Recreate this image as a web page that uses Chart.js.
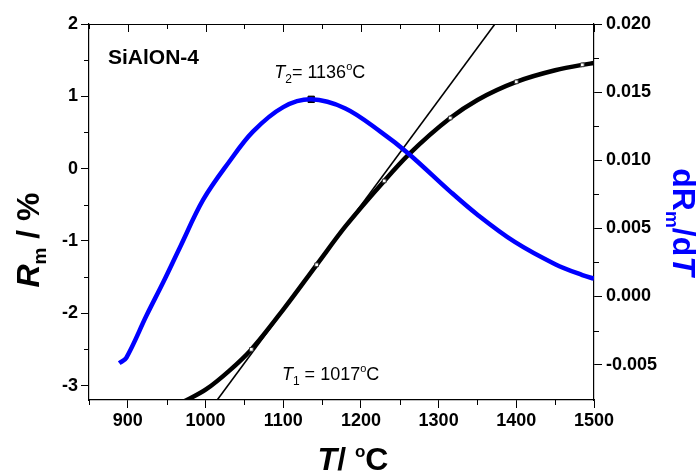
<!DOCTYPE html>
<html>
<head>
  <meta charset="UTF-8">
  <title>SiAlON-4 Rm</title>
  <script src="https://cdn.jsdelivr.net/npm/chart.js"></script>
  <style>
    body { margin: 0; background: #fff; }
    #wrap { width: 698px; height: 475px; }
  </style>
</head>
<body>
  <div id="wrap"><canvas id="grafico" width="698" height="475"></canvas></div>

  <script>
    // Rm (%) curve, left axis
    const rmTemps  = [940, 960, 976, 1001, 1030, 1059, 1100, 1143, 1180, 1230, 1261, 1315, 1350, 1400, 1450, 1485, 1500];
    const rmValues = [-3.34, -3.28, -3.2, -3.05, -2.80, -2.50, -1.95, -1.33, -0.80, -0.17, 0.19, 0.70, 0.95, 1.20, 1.36, 1.435, 1.46];
    const rmMarkerTemps = [1059, 1143, 1230, 1315, 1400, 1485];

    // dRm/dT curve, right axis
    const dTemps  = [889, 898, 924, 946, 967, 997, 1030, 1061, 1100, 1136, 1180, 1225, 1261, 1315, 1350, 1398, 1450, 1485, 1500];
    const dValues = [-0.0049, -0.0045, -0.0014, 0.0011, 0.0036, 0.0071, 0.00985, 0.0121, 0.0139, 0.01447, 0.0138, 0.0121, 0.0105, 0.0077, 0.0060, 0.0040, 0.00237, 0.00157, 0.00131];

    // tangent line and peak
    const tangentTemps  = [1015, 1372.5];
    const tangentValues = [-3.2, 2];
    const peakTemp = 1136;
    const peakValue = 0.01447;

    // ticks
    const xTicks = [900, 1000, 1100, 1200, 1300, 1400, 1500];
    const xMinor = [850, 950, 1050, 1150, 1250, 1350, 1450];
    const yTicks = [-3, -2, -1, 0, 1, 2];
    const yMinor = [-2.5, -1.5, -0.5, 0.5, 1.5];
    const y2Ticks = [-0.005, 0, 0.005, 0.010, 0.015, 0.020];
    const y2Minor = [-0.0025, 0.0025, 0.0075, 0.0125, 0.0175];

    const FAM = 'Arial, "Liberation Sans", sans-serif';

    function puntos(xs, ys) {
      return xs.map((x, i) => ({ x: x, y: ys[i] }));
    }

    // text made of pieces (italic, sub/superscript)
    function textoRico(ctx, partes, x, y, align) {
      let total = 0;
      partes.forEach(p => { ctx.font = p.f; p.w = ctx.measureText(p.t).width; total += p.w; });
      let cx = align === 'center' ? x - total / 2 : x;
      partes.forEach(p => {
        ctx.font = p.f;
        ctx.fillText(p.t, cx, y + (p.dy || 0));
        cx += p.w;
      });
    }

    const extras = {
      id: 'extras',
      afterDraw(chart) {
        const ctx = chart.ctx;
        const a = chart.chartArea;
        const sx = chart.scales.x, sy = chart.scales.y, sy2 = chart.scales.y2;
        ctx.save();
        ctx.strokeStyle = '#000';
        ctx.lineWidth = 1;

        // top border with inward ticks, minor ticks elsewhere
        ctx.beginPath();
        ctx.moveTo(a.left, a.top + 0.5);
        ctx.lineTo(a.right, a.top + 0.5);
        xTicks.forEach(v => {
          const p = Math.round(sx.getPixelForValue(v)) + 0.5;
          ctx.moveTo(p, a.top); ctx.lineTo(p, a.top + 8);
        });
        xMinor.forEach(v => {
          const p = Math.round(sx.getPixelForValue(v)) + 0.5;
          ctx.moveTo(p, a.top); ctx.lineTo(p, a.top + 5);
          ctx.moveTo(p, a.bottom); ctx.lineTo(p, a.bottom + 5);
        });
        yMinor.forEach(v => {
          const p = Math.round(sy.getPixelForValue(v)) + 0.5;
          ctx.moveTo(a.left, p); ctx.lineTo(a.left - 5, p);
        });
        y2Minor.forEach(v => {
          const p = Math.round(sy2.getPixelForValue(v)) + 0.5;
          ctx.moveTo(a.right, p); ctx.lineTo(a.right + 5, p);
        });
        ctx.stroke();

        ctx.textBaseline = 'alphabetic';
        ctx.fillStyle = '#000';

        // SiAlON-4
        ctx.font = 'bold 21px ' + FAM;
        ctx.fillText('SiAlON-4', 108, 64);

        // T2 label
        textoRico(ctx, [
          { t: 'T', f: 'italic 18px ' + FAM },
          { t: '2', f: '12px ' + FAM, dy: 5 },
          { t: '= 1136', f: '18px ' + FAM },
          { t: 'o', f: '11px ' + FAM, dy: -8 },
          { t: 'C', f: '18px ' + FAM }
        ], sx.getPixelForValue(1147), sy.getPixelForValue(1.26), 'center');

        // T1 label
        textoRico(ctx, [
          { t: 'T', f: 'italic 18px ' + FAM },
          { t: '1', f: '12px ' + FAM, dy: 5 },
          { t: ' = 1017', f: '18px ' + FAM },
          { t: 'o', f: '11px ' + FAM, dy: -8 },
          { t: 'C', f: '18px ' + FAM }
        ], sx.getPixelForValue(1161), sy.getPixelForValue(-2.92), 'center');

        // x title
        textoRico(ctx, [
          { t: 'T', f: 'bold italic 32px ' + FAM },
          { t: '/ ', f: 'bold 32px ' + FAM },
          { t: 'o', f: 'bold 17px ' + FAM, dy: -13 },
          { t: 'C', f: 'bold 32px ' + FAM }
        ], 353, 470, 'center');

        // left title
        ctx.save();
        ctx.translate(28, 240);
        ctx.rotate(-Math.PI / 2);
        textoRico(ctx, [
          { t: 'R', f: 'bold italic 32px ' + FAM },
          { t: 'm', f: 'bold 19px ' + FAM, dy: 7 },
          { t: ' / %', f: 'bold 32px ' + FAM }
        ], 0, 11, 'center');
        ctx.restore();

        // right title
        ctx.save();
        ctx.fillStyle = '#0000ff';
        ctx.translate(684, 222);
        ctx.rotate(Math.PI / 2);
        textoRico(ctx, [
          { t: 'dR', f: 'bold 32px ' + FAM },
          { t: 'm', f: 'bold 19px ' + FAM, dy: 7 },
          { t: '/d', f: 'bold 32px ' + FAM },
          { t: 'T', f: 'bold italic 32px ' + FAM }
        ], 0, 11, 'center');
        ctx.restore();

        ctx.restore();
      }
    };

    const ejeTicks = { color: '#000', font: { family: FAM, size: 18, weight: 'bold' } };
    const ejeGrid = { drawOnChartArea: false, drawTicks: true, tickLength: 8, color: '#000', lineWidth: 1 };
    const ejeBorde = { display: true, color: '#000', width: 1.2 };

    new Chart(document.getElementById('grafico').getContext('2d'), {
      type: 'line',
      data: {
        datasets: [
          {
            data: puntos(dTemps, dValues),
            yAxisID: 'y2',
            borderColor: '#0000ff',
            borderWidth: 4.5,
            pointRadius: 0,
            tension: 0.35,
            clip: 0
          },
          {
            data: puntos(rmTemps, rmValues),
            yAxisID: 'y',
            borderColor: '#000',
            borderWidth: 4.5,
            cubicInterpolationMode: 'monotone',
            pointStyle: 'rect',
            pointRadius: c => rmMarkerTemps.includes(c.raw && c.raw.x) ? 2.6 : 0,
            pointBackgroundColor: '#fff',
            pointBorderColor: '#333',
            pointBorderWidth: 1,
            clip: 0
          },
          {
            data: puntos(tangentTemps, tangentValues),
            yAxisID: 'y',
            borderColor: '#000',
            borderWidth: 1.6,
            pointRadius: 0,
            clip: 0
          },
          {
            data: [{ x: peakTemp, y: peakValue }],
            yAxisID: 'y2',
            showLine: false,
            pointStyle: 'rect',
            pointRadius: 4.5,
            pointBackgroundColor: '#000',
            pointBorderColor: '#000'
          }
        ]
      },
      options: {
        responsive: false,
        animation: false,
        events: [],
        layout: { padding: { top: 24, left: 0, right: 0, bottom: 0 } },
        plugins: { legend: { display: false }, tooltip: { enabled: false } },
        scales: {
          x: {
            type: 'linear',
            min: 850,
            max: 1500,
            afterBuildTicks: s => { s.ticks = xTicks.map(v => ({ value: v })); },
            afterFit: s => { s.height = 75; },
            ticks: Object.assign({ padding: 2, maxRotation: 0, callback: v => String(v) }, ejeTicks),
            grid: ejeGrid,
            border: ejeBorde
          },
          y: {
            type: 'linear',
            position: 'left',
            min: -3.2,
            max: 2,
            afterBuildTicks: s => { s.ticks = yTicks.map(v => ({ value: v })); },
            afterFit: s => { s.width = 89; },
            ticks: Object.assign({ padding: 3, callback: v => String(v) }, ejeTicks),
            grid: ejeGrid,
            border: ejeBorde
          },
          y2: {
            type: 'linear',
            position: 'right',
            min: -0.0076,
            max: 0.020,
            afterBuildTicks: s => { s.ticks = y2Ticks.map(v => ({ value: v })); },
            afterFit: s => { s.width = 104; },
            ticks: Object.assign({ padding: 4, callback: v => v.toFixed(3) }, ejeTicks),
            grid: ejeGrid,
            border: ejeBorde
          }
        }
      },
      plugins: [extras]
    });
  </script>
</body>
</html>
